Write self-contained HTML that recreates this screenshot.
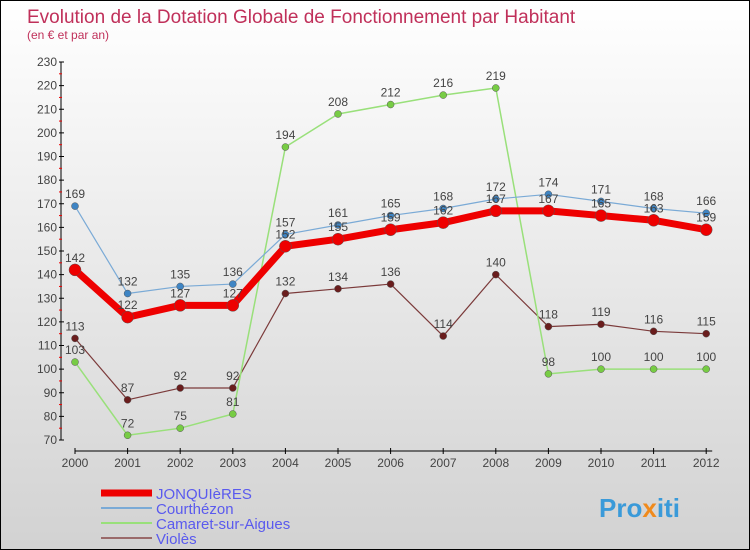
<!DOCTYPE html>
<html><head><meta charset="utf-8"><style>
body{margin:0}
#wrap{position:relative;width:748px;height:548px;border:1px solid #000;background:linear-gradient(#fff,#d2d2d2);font-family:"Liberation Sans",sans-serif;overflow:hidden}
</style></head><body>
<div id="wrap">
<svg id="c" width="748" height="548" xmlns="http://www.w3.org/2000/svg" style="position:absolute;left:0;top:0">
<text x="26" y="22" font-size="19" fill="#c0305a">Evolution de la Dotation Globale de Fonctionnement par Habitant</text>
<text x="26" y="38" font-size="12" fill="#c0305a">(en € et par an)</text>
<g id="axes"></g><g id="series"></g>
<text x="598" y="516" font-size="26" font-weight="bold" fill="#3a9ad9">Pro<tspan fill="#f08a1c">x</tspan>iti</text>
</svg>
</div>
<script>
const years=[2000,2001,2002,2003,2004,2005,2006,2007,2008,2009,2010,2011,2012];
const jonq=[142,122,127,127,152,155,159,162,167,167,165,163,159];
const court=[169,132,135,136,157,161,165,168,172,174,171,168,166];
const camaret=[103,72,75,81,194,208,212,216,219,98,100,100,100];
const violes=[113,87,92,92,132,134,136,114,140,118,119,116,115];
const yTicks=[70,80,90,100,110,120,130,140,150,160,170,180,190,200,210,220,230];
const NS="http://www.w3.org/2000/svg";
const X=i=>74+i*52.6, Y=v=>439-(v-70)*(378/160);
function mk(t,a,p){const e=document.createElementNS(NS,t);for(const k in a)e.setAttribute(k,a[k]);p.appendChild(e);return e;}
const ax=document.getElementById('axes');
let yl=mk('line',{x1:60,y1:Y(230),x2:60,y2:Y(70),stroke:'#000'},ax);


yTicks.forEach(v=>{
  mk('line',{x1:58,x2:63,y1:Y(v),y2:Y(v),stroke:'#000'},ax);
  if(v<230)mk('line',{x1:58,x2:61,y1:Y(v+5),y2:Y(v+5),stroke:'#e00'},ax);
  const t=mk('text',{x:56,y:Y(v)+4,'font-size':12,fill:'#444','text-anchor':'end'},ax);t.textContent=v;
  
  
});
let xl=mk('line',{x1:74,y1:450,x2:X(12)+6,y2:450,stroke:'#000'},ax);


years.forEach((y,i)=>{
  mk('line',{x1:X(i),x2:X(i),y1:447,y2:453,stroke:'#000'},ax);
  const t=mk('text',{x:X(i),y:466,'font-size':12,fill:'#444','text-anchor':'middle'},ax);t.textContent=y;
  
  
});
const sg=document.getElementById('series');
function series(name,data,color,w,r,dot,labelColor,above){
  const g=mk('g',{},sg);
  
  
  mk('polyline',{points:data.map((v,i)=>X(i)+','+Y(v)).join(' '),fill:'none',stroke:color,'stroke-width':w,'stroke-linejoin':'round'},g);
  data.forEach((v,i)=>{
    const c=mk('circle',{cx:X(i),cy:Y(v),r:r,fill:dot,stroke:'#555','stroke-width':0.5},g);
    
    
    const t=mk('text',{x:X(i),y:Y(v)+(above?-8:-8),'font-size':12,fill:'#444','text-anchor':'middle'},g);t.textContent=v;
  });
}
series('violes',violes,'#7b3a3a',1.2,3.5,'#6a1d1d');
series('camaret',camaret,'#99e07a',1.5,3.5,'#77cc44');
series('courthezon',court,'#7aaad6',1.2,3.5,'#3f85c4');
series('jonquieres',jonq,'#ee0000',7,6,'#ee0000');
const legend=[['JONQUIèRES','#ee0000',7],['Courthézon','#7aaad6',2],['Camaret-sur-Aigues','#99e07a',2],['Violès','#9a6a6a',2]];
legend.forEach((l,i)=>{
  const y=492+i*15;
  const g=mk('g',{},document.getElementById('c'));
  
  
  mk('line',{x1:100,x2:151,y1:y,y2:y,stroke:l[1],'stroke-width':l[2]},g);
  const t=mk('text',{x:155,y:y+6,'font-size':15,fill:'#5a5aee'},g);t.textContent=l[0];
});
</script>
</body></html>
